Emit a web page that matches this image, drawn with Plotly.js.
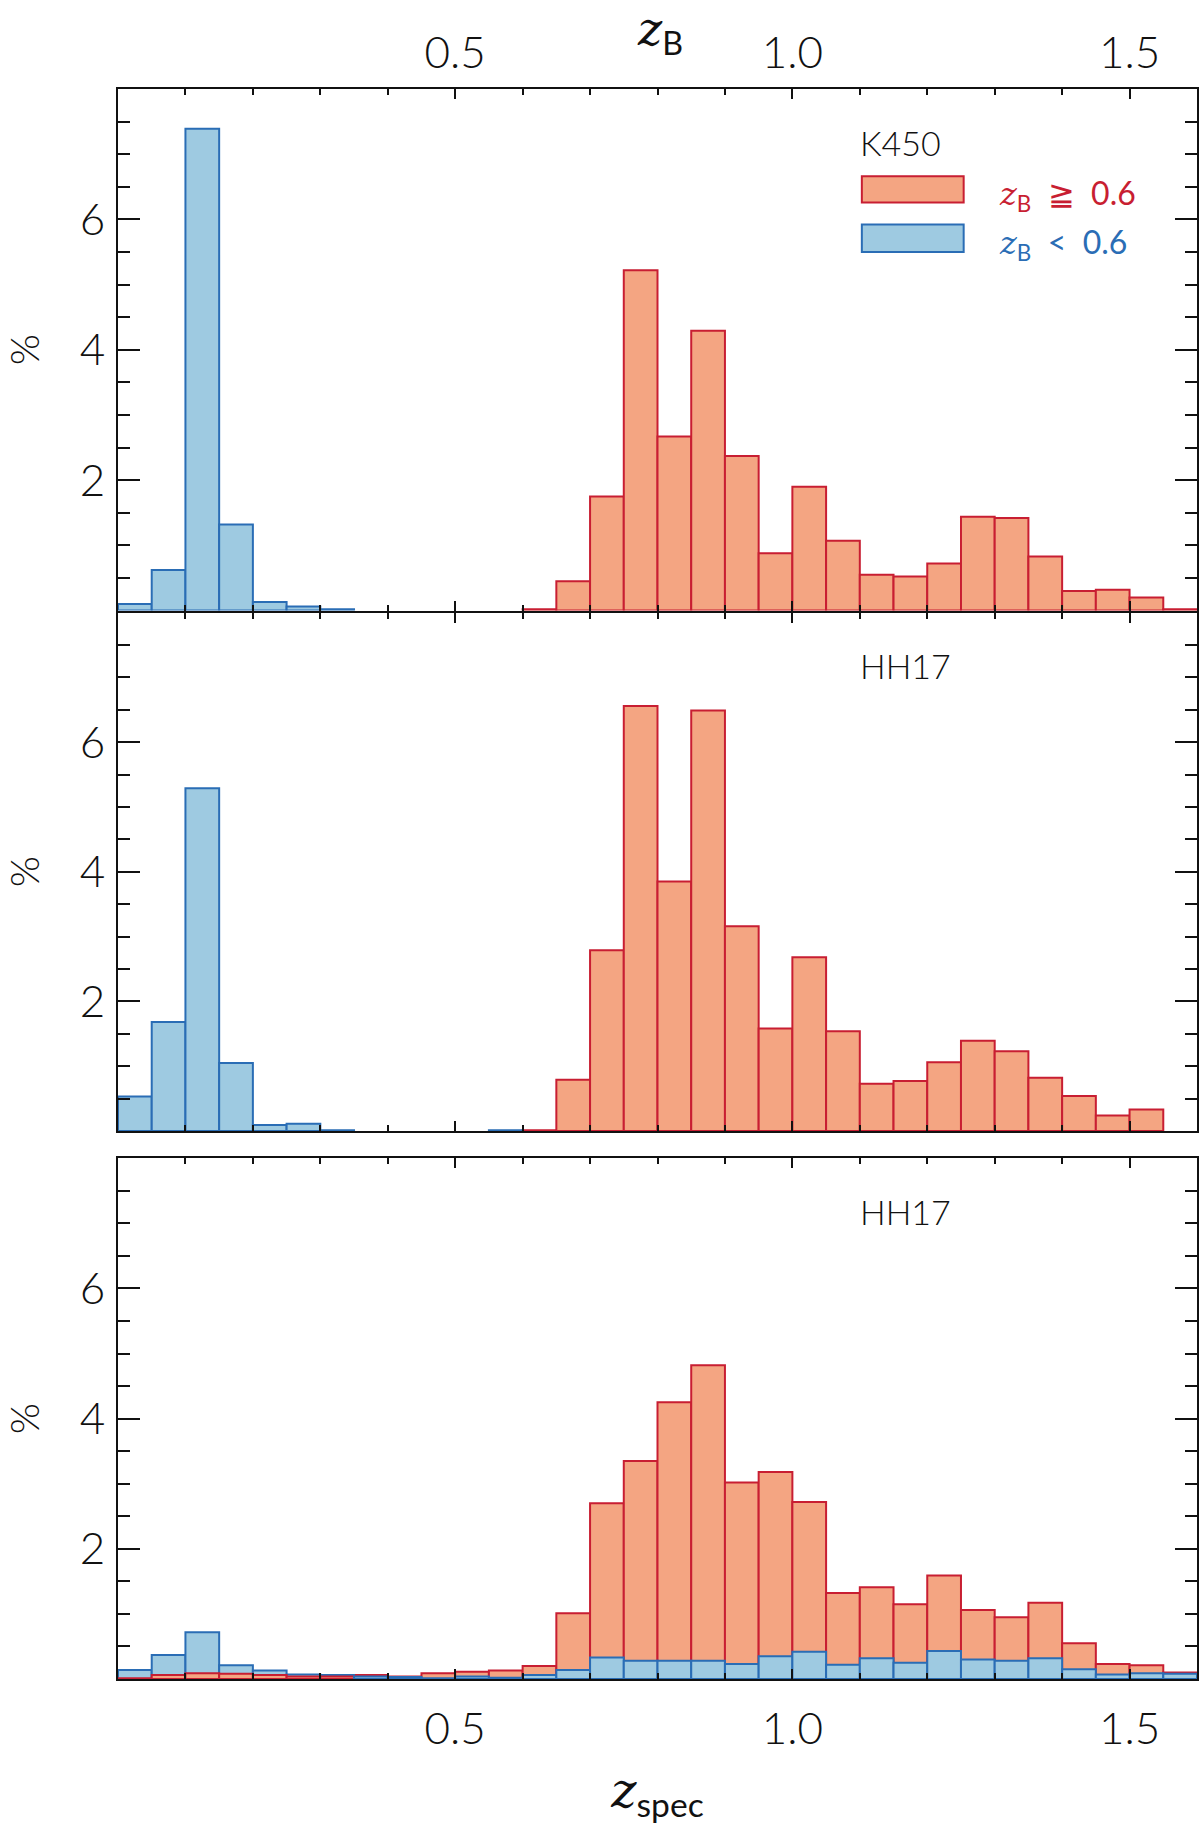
<!DOCTYPE html>
<html>
<head>
<meta charset="utf-8">
<script src="https://cdn.plot.ly/plotly-3.0.1.min.js"></script>
<style>
  html, body { margin: 0; padding: 0; background: #fff; }
  #chart { width: 1200px; height: 1825px; }
</style>
</head>
<body>
<div id="chart"></div>
<script>
// bin centres, 0.05 wide bins from 0 to 1.6
var binCenters = [0.025, 0.075, 0.125, 0.175, 0.225, 0.275, 0.325, 0.375,
                  0.425, 0.475, 0.525, 0.575, 0.625, 0.675, 0.725, 0.775,
                  0.825, 0.875, 0.925, 0.975, 1.025, 1.075, 1.125, 1.175,
                  1.225, 1.275, 1.325, 1.375, 1.425, 1.475, 1.525, 1.575];

// top panel: K450, percentages
var k450High = [0, 0, 0, 0, 0, 0, 0, 0, 0, 0, 0, 0,
                0.02, 0.45, 1.75, 5.22, 2.67, 4.29, 2.37, 0.88, 1.90, 1.07,
                0.55, 0.52, 0.72, 1.44, 1.42, 0.83, 0.30, 0.32, 0.20, 0.02];
var k450Low = [0.10, 0.62, 7.39, 1.32, 0.13, 0.06, 0.02, 0, 0, 0, 0, 0,
               0, 0, 0, 0, 0, 0, 0, 0, 0, 0, 0, 0, 0, 0, 0, 0, 0, 0, 0, 0];

// middle panel: HH17
var hh17High = [0, 0, 0, 0, 0, 0, 0, 0, 0, 0, 0, 0,
                0.01, 0.79, 2.79, 6.56, 3.85, 6.49, 3.16, 1.58, 2.68, 1.54,
                0.73, 0.77, 1.06, 1.39, 1.23, 0.82, 0.54, 0.24, 0.33, 0];
var hh17Low = [0.53, 1.68, 5.29, 1.05, 0.09, 0.11, 0.01, 0, 0, 0, 0, 0.01,
               0, 0, 0, 0, 0, 0, 0, 0, 0, 0, 0, 0, 0, 0, 0, 0, 0, 0, 0, 0];

// bottom panel: HH17, both classes over the whole range
var hh17bHigh = [0.01, 0.06, 0.09, 0.08, 0.06, 0.04, 0.04, 0.06, 0.04, 0.09, 0.11, 0.13,
                 0.20, 1.01, 2.70, 3.35, 4.25, 4.82, 3.02, 3.18, 2.72, 1.32,
                 1.41, 1.15, 1.59, 1.06, 0.95, 1.17, 0.55, 0.23, 0.21, 0.10];
var hh17bLow = [0.14, 0.37, 0.72, 0.21, 0.13, 0.07, 0.06, 0.04, 0.03, 0.01, 0.04, 0.02,
                0.06, 0.14, 0.33, 0.28, 0.28, 0.28, 0.23, 0.35, 0.42, 0.22,
                0.32, 0.25, 0.43, 0.30, 0.28, 0.32, 0.15, 0.07, 0.09, 0.08];

var xTicks = [0.5, 1.0, 1.5];
var xTickText = ["0.5", "1.0", "1.5"];
var yTicks = [2, 4, 6];

var redFill = "#f4a582", redEdge = "#c81e32";
var blueFill = "#9ecae1", blueEdge = "#2a6db5";
var ink = "#111111";
var zItalic = '<i><span style="font-family:DejaVu Serif">z</span></i>';

function bar(vals, fill, edge, xa, ya) {
  return {
    type: "bar",
    x: binCenters,
    y: vals,
    width: 0.05,
    marker: { color: fill, line: { color: edge, width: 2 } },
    xaxis: xa, yaxis: ya,
    showlegend: false,
    hoverinfo: "x+y"
  };
}

// taller bar of each bin goes behind, shorter one in front
function panel(high, low, xa, ya) {
  var highBack = high.map(function (v, i) { return v > 0 && v >= low[i] ? v : null; });
  var lowBack = low.map(function (v, i) { return v > 0 && v > high[i] ? v : null; });
  var highFront = high.map(function (v, i) { return v > 0 && v < low[i] ? v : null; });
  var lowFront = low.map(function (v, i) { return v > 0 && v <= high[i] ? v : null; });
  return [
    bar(highBack, redFill, redEdge, xa, ya),
    bar(lowBack, blueFill, blueEdge, xa, ya),
    bar(highFront, redFill, redEdge, xa, ya),
    bar(lowFront, blueFill, blueEdge, xa, ya)
  ];
}

var data = [].concat(
  panel(hh17bHigh, hh17bLow, "x", "y"),
  panel(hh17High, hh17Low, "x2", "y2"),
  panel(k450High, k450Low, "x3", "y3")
);

function xAxis(anchor, extra) {
  var ax = {
    anchor: anchor,
    range: [0, 1.6],
    tickmode: "array",
    tickvals: xTicks,
    ticktext: xTickText,
    ticks: "inside",
    ticklen: 10,
    tickwidth: 2,
    tickcolor: ink,
    minor: { tickmode: "linear", tick0: 0, dtick: 0.1, ticks: "inside", ticklen: 6, tickwidth: 2, tickcolor: ink },
    showline: true,
    linewidth: 2,
    linecolor: ink,
    mirror: "ticks",
    showgrid: false,
    zeroline: false,
    ticklabelstandoff: 10,
    tickfont: { size: 44, weight: 300 }
  };
  for (var k in extra) ax[k] = extra[k];
  return ax;
}

function yAxis(anchor, domain) {
  return {
    anchor: anchor,
    domain: domain,
    range: [0, 8],
    tickmode: "array",
    tickvals: yTicks,
    ticks: "inside",
    ticklen: 22,
    tickwidth: 2,
    tickcolor: ink,
    minor: { tickmode: "linear", tick0: 0, dtick: 0.5, ticks: "inside", ticklen: 12, tickwidth: 2, tickcolor: ink },
    showline: true,
    linewidth: 2,
    linecolor: ink,
    mirror: "ticks",
    showgrid: false,
    zeroline: false,
    ticklabelstandoff: 2,
    tickfont: { size: 44, weight: 300 },
    title: { text: "%", font: { size: 40, weight: 300 }, standoff: 56 }
  };
}

var layout = {
  width: 1200,
  height: 1825,
  margin: { l: 118, r: 3, t: 89, b: 146 },
  paper_bgcolor: "#fff",
  plot_bgcolor: "#fff",
  barmode: "overlay",
  bargap: 0,
  font: { family: "Lato, 'Noto Sans', sans-serif", size: 44, color: ink },
  xaxis: xAxis("y", {
    title: { text: zItalic + "<sub>spec</sub>", font: { size: 48 }, standoff: 22 }
  }),
  xaxis2: xAxis("y2", { matches: "x", showticklabels: false }),
  xaxis3: xAxis("y3", { matches: "x", side: "top", ticklabelstandoff: 1 }),
  yaxis: yAxis("x", [0, 0.3275]),
  yaxis2: yAxis("x2", [0.3447, 0.6707]),
  yaxis3: yAxis("x3", [0.672, 1]),
  shapes: [
    { type: "rect", xref: "x3", yref: "y3", x0: 1.103, x1: 1.254, y0: 6.26, y1: 6.66,
      fillcolor: redFill, line: { color: redEdge, width: 2 } },
    { type: "rect", xref: "x3", yref: "y3", x0: 1.103, x1: 1.254, y0: 5.50, y1: 5.92,
      fillcolor: blueFill, line: { color: blueEdge, width: 2 } }
  ],
  annotations: [
    // top axis title (z_B)
    { xref: "paper", yref: "paper", x: 0.502, y: 1.036, xanchor: "center", yanchor: "middle",
      text: zItalic + "<sub>B</sub>", showarrow: false, font: { size: 46 } },
    { xref: "x3", yref: "y3", x: 1.098, y: 7.18, xanchor: "left", yanchor: "middle",
      text: "K450", showarrow: false, font: { size: 34, weight: 300 } },
    { xref: "x3", yref: "y3", x: 1.303, y: 6.38, xanchor: "left", yanchor: "middle",
      text: zItalic + "<sub>B</sub>&nbsp; ≧ &nbsp;0.6", showarrow: false, font: { size: 32, color: redEdge } },
    { xref: "x3", yref: "y3", x: 1.303, y: 5.63, xanchor: "left", yanchor: "middle",
      text: zItalic + "<sub>B</sub>&nbsp; &lt; &nbsp;0.6", showarrow: false, font: { size: 32, color: blueEdge } },
    { xref: "x2", yref: "y2", x: 1.097, y: 7.18, xanchor: "left", yanchor: "middle",
      text: "HH17", showarrow: false, font: { size: 34, weight: 300 } },
    { xref: "x", yref: "y", x: 1.097, y: 7.18, xanchor: "left", yanchor: "middle",
      text: "HH17", showarrow: false, font: { size: 34, weight: 300 } }
  ]
};

Plotly.newPlot("chart", data, layout, { displayModeBar: false, staticPlot: true });
</script>
</body>
</html>
